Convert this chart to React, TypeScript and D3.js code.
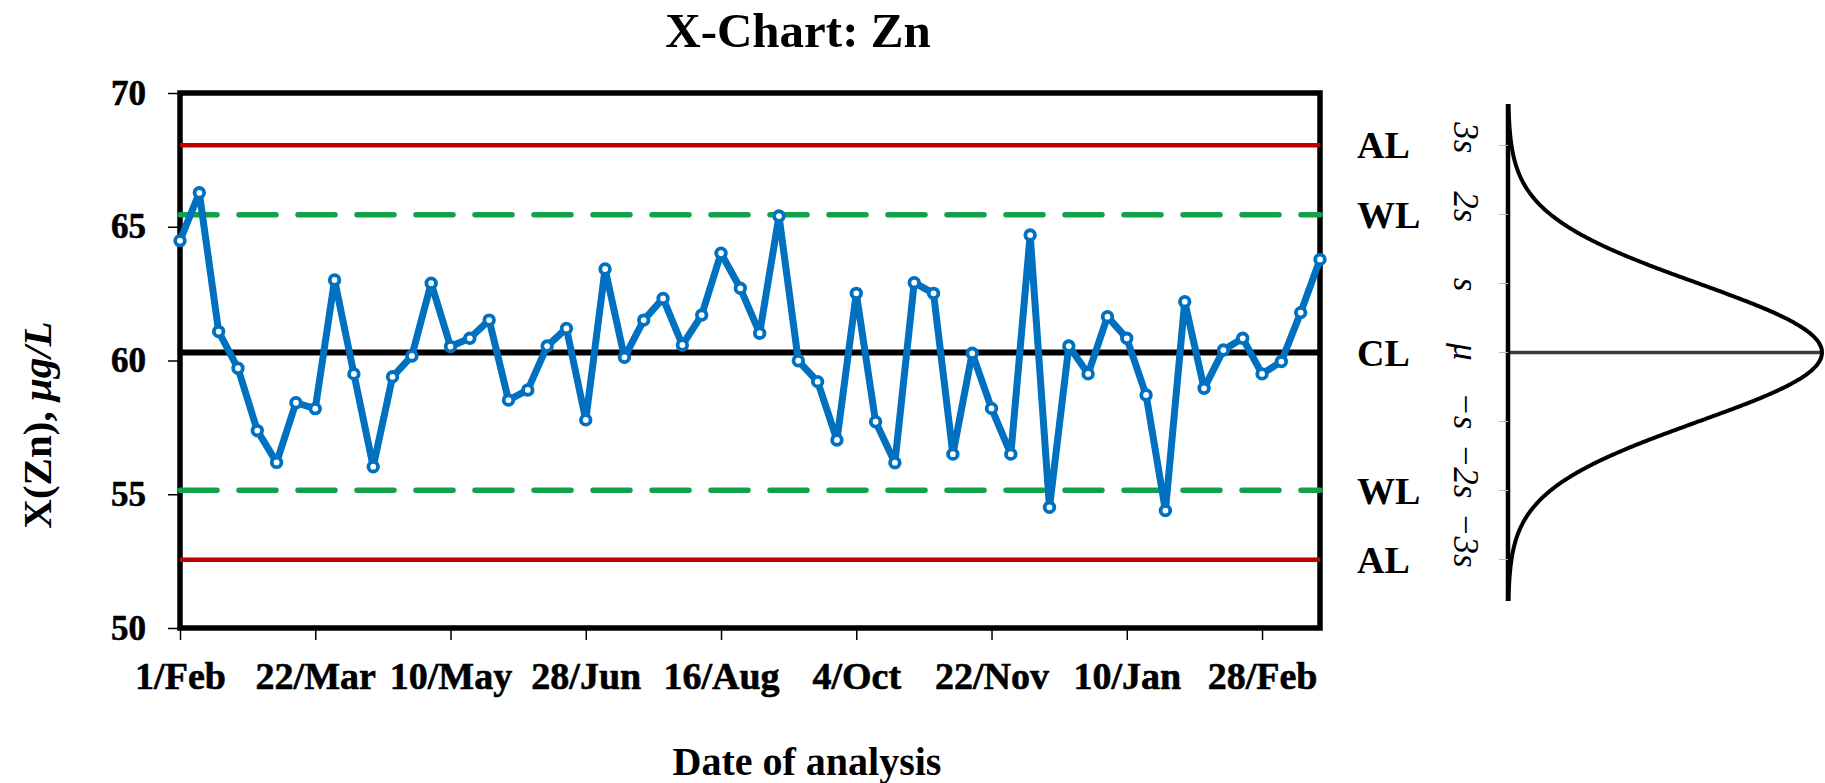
import React, { useRef, useEffect } from 'react';
import * as d3 from 'd3';

// weekly analysis dates
const sampleDates = [
  '2009-02-01', '2009-02-08', '2009-02-15', '2009-02-22',
  '2009-03-01', '2009-03-08', '2009-03-15', '2009-03-22', '2009-03-29',
  '2009-04-05', '2009-04-12', '2009-04-19', '2009-04-26',
  '2009-05-03', '2009-05-10', '2009-05-17', '2009-05-24', '2009-05-31',
  '2009-06-07', '2009-06-14', '2009-06-21', '2009-06-28',
  '2009-07-05', '2009-07-12', '2009-07-19', '2009-07-26',
  '2009-08-02', '2009-08-09', '2009-08-16', '2009-08-23', '2009-08-30',
  '2009-09-06', '2009-09-13', '2009-09-20', '2009-09-27',
  '2009-10-04', '2009-10-11', '2009-10-18', '2009-10-25',
  '2009-11-01', '2009-11-08', '2009-11-15', '2009-11-22', '2009-11-29',
  '2009-12-06', '2009-12-13', '2009-12-20', '2009-12-27',
  '2010-01-03', '2010-01-10', '2010-01-17', '2010-01-24', '2010-01-31',
  '2010-02-07', '2010-02-14', '2010-02-21', '2010-02-28',
  '2010-03-07', '2010-03-14', '2010-03-21',
];

// X(Zn), µg/L
const znValues = [
  64.48, 66.27, 61.08, 59.71, 57.38, 56.19, 58.42, 58.2, 63.01, 59.5,
  56.03, 59.39, 60.17, 62.89, 60.52, 60.83, 61.51, 58.52, 58.9, 60.54,
  61.2, 57.78, 63.42, 60.12, 61.51, 62.32, 60.58, 61.7, 64.01, 62.7,
  61.02, 65.4, 59.99, 59.21, 57.03, 62.51, 57.71, 56.18, 62.91, 62.51,
  56.5, 60.27, 58.21, 56.5, 64.69, 54.51, 60.54, 59.5, 61.64, 60.83,
  58.71, 54.39, 62.2, 58.96, 60.39, 60.83, 59.5, 59.96, 61.79, 63.78,
];

const xTickDates = [
  '2009-02-01', '2009-03-22', '2009-05-10', '2009-06-28', '2009-08-16',
  '2009-10-04', '2009-11-22', '2010-01-10', '2010-02-28',
];
const yTicks = [50, 55, 60, 65, 70];

const centerLine = 60.3;
const sigma = 2.58;
const limitLines = [
  { label: 'AL', value: 68.05, type: 'action' },
  { label: 'WL', value: 65.45, type: 'warning' },
  { label: 'CL', value: 60.3, type: 'center' },
  { label: 'WL', value: 55.15, type: 'warning' },
  { label: 'AL', value: 52.55, type: 'action' },
];
const sigmaLabels = [
  { k: 3, text: '3s' },
  { k: 2, text: '2s' },
  { k: 1, text: 's' },
  { k: 0, text: 'μ' },
  { k: -1, text: '−s' },
  { k: -2, text: '−2s' },
  { k: -3, text: '−3s' },
];

const W = 1825;
const H = 783;
const plot = { left: 180, right: 1320, top: 93, bottom: 628 };
const FONT = '"Liberation Serif", "Times New Roman", serif';
const BLUE = '#0070C0';
const RED = '#C00000';
const GREEN = '#12A04A';

const App = () => {
  const svgRef = useRef<SVGSVGElement>(null);

  useEffect(() => {
    const svg = d3.select(svgRef.current);
    svg.selectAll('*').remove();

    const parse = d3.timeParse('%Y-%m-%d');
    const dates = sampleDates.map(d => parse(d) as Date);
    const points = dates.map((date, i) => ({ date, value: znValues[i] }));

    const x = d3.scaleTime()
      .domain([dates[0], dates[dates.length - 1]])
      .range([plot.left, plot.right]);
    const y = d3.scaleLinear().domain([50, 70]).range([plot.bottom, plot.top]);

    svg.append('rect').attr('width', W).attr('height', H).attr('fill', '#fff');

    // Title
    svg.append('text')
      .attr('x', 798)
      .attr('y', 47)
      .attr('text-anchor', 'middle')
      .attr('font-family', FONT)
      .attr('font-size', 49)
      .attr('font-weight', 'bold')
      .text('X-Chart: Zn');

    // Y axis
    const gy = svg.append('g')
      .attr('transform', `translate(${plot.left},0)`)
      .call(d3.axisLeft(y).tickValues(yTicks).tickSize(12).tickPadding(22));
    gy.select('.domain').remove();
    gy.attr('font-family', FONT).attr('font-size', 35).attr('font-weight', 'bold');
    gy.selectAll('.tick line').attr('stroke', '#000').attr('stroke-width', 1.5);
    gy.selectAll('.tick text').attr('fill', '#000').attr('stroke', '#000').attr('stroke-width', 0.6);

    // X axis
    const gx = svg.append('g')
      .attr('transform', `translate(0,${plot.bottom})`)
      .call(d3.axisBottom(x)
        .tickValues(xTickDates.map(d => parse(d) as Date))
        .tickFormat(d3.timeFormat('%-d/%b') as any)
        .tickSize(12));
    gx.select('.domain').remove();
    gx.attr('font-family', FONT).attr('font-size', 38).attr('font-weight', 'bold');
    gx.selectAll('.tick line').attr('stroke', '#000').attr('stroke-width', 1.5);
    gx.selectAll('.tick text').attr('fill', '#000').attr('y', 61).attr('dy', 0)
      .attr('stroke', '#000').attr('stroke-width', 0.6);

    // Axis titles
    const yLabel = svg.append('text')
      .attr('transform', `translate(37,425) rotate(-90)`)
      .attr('text-anchor', 'middle')
      .attr('dy', '0.35em')
      .attr('font-family', FONT)
      .attr('font-size', 41)
      .attr('font-weight', 'bold');
    yLabel.append('tspan').text('X(Zn), ');
    yLabel.append('tspan').attr('font-style', 'italic').text('μg/L');

    svg.append('text')
      .attr('x', 807)
      .attr('y', 775)
      .attr('text-anchor', 'middle')
      .attr('font-family', FONT)
      .attr('font-size', 40)
      .attr('font-weight', 'bold')
      .text('Date of analysis');

    // Plot border
    svg.append('rect')
      .attr('x', plot.left)
      .attr('y', plot.top)
      .attr('width', plot.right - plot.left)
      .attr('height', plot.bottom - plot.top)
      .attr('fill', 'none')
      .attr('stroke', '#000')
      .attr('stroke-width', 5.5);

    // Control limits
    limitLines.forEach(l => {
      const ln = svg.append('line')
        .attr('x1', plot.left)
        .attr('x2', plot.right)
        .attr('y1', y(l.value))
        .attr('y2', y(l.value));
      if (l.type === 'action') {
        ln.attr('stroke', RED).attr('stroke-width', 4.5);
      } else if (l.type === 'warning') {
        ln.attr('stroke', GREEN).attr('stroke-width', 5.5)
          .attr('stroke-dasharray', '37,22')
          .attr('stroke-linecap', 'round');
      } else {
        ln.attr('stroke', '#000').attr('stroke-width', 6);
      }

      svg.append('text')
        .attr('x', 1357)
        .attr('y', y(l.value))
        .attr('dy', '0.35em')
        .attr('font-family', FONT)
        .attr('font-size', 38)
        .attr('font-weight', 'bold')
        .text(l.label);
    });

    // Data series
    const line = d3.line<{ date: Date; value: number }>()
      .x(d => x(d.date))
      .y(d => y(d.value));
    svg.append('path')
      .datum(points)
      .attr('d', line)
      .attr('fill', 'none')
      .attr('stroke', BLUE)
      .attr('stroke-width', 7)
      .attr('stroke-linejoin', 'round');
    svg.selectAll('.pt')
      .data(points)
      .enter().append('circle')
      .attr('class', 'pt')
      .attr('cx', d => x(d.date))
      .attr('cy', d => y(d.value))
      .attr('r', 4.8)
      .attr('fill', '#fff')
      .attr('stroke', BLUE)
      .attr('stroke-width', 3.8);

    // Normal distribution sketch
    const baseX = 1508;
    const peak = 314;
    const zMax = 3.6;
    const zs = d3.range(-zMax, zMax + 0.001, 0.02);
    const curve = d3.line<number>()
      .x(z => baseX + peak * Math.exp(-z * z / 2))
      .y(z => y(centerLine + z * sigma))
      .curve(d3.curveBasis);

    svg.append('line')
      .attr('x1', baseX).attr('x2', baseX + peak)
      .attr('y1', y(centerLine)).attr('y2', y(centerLine))
      .attr('stroke', '#3c3c3c')
      .attr('stroke-width', 3.5);
    svg.append('path')
      .datum(zs)
      .attr('d', curve)
      .attr('fill', 'none')
      .attr('stroke', '#000')
      .attr('stroke-width', 4);
    svg.append('line')
      .attr('x1', baseX).attr('x2', baseX)
      .attr('y1', y(centerLine + zMax * sigma))
      .attr('y2', y(centerLine - zMax * sigma))
      .attr('stroke', '#000')
      .attr('stroke-width', 4.5);

    sigmaLabels.forEach(s => {
      const sy = y(centerLine + s.k * sigma);
      svg.append('line')
        .attr('x1', baseX - 9).attr('x2', baseX)
        .attr('y1', sy).attr('y2', sy)
        .attr('stroke', '#bbb')
        .attr('stroke-width', 1);
      svg.append('text')
        .attr('transform', `translate(1466,${sy + 8}) rotate(90)`)
        .attr('text-anchor', 'end')
        .attr('dy', '0.35em')
        .attr('font-family', FONT)
        .attr('font-size', 35)
        .attr('font-style', 'italic')
        .text(s.text);
    });
  }, []);

  return (
    <svg
      ref={svgRef}
      width={W}
      height={H}
      style={{ position: 'absolute', left: 0, top: 0, display: 'block' }}
    />
  );
};

export default App;
